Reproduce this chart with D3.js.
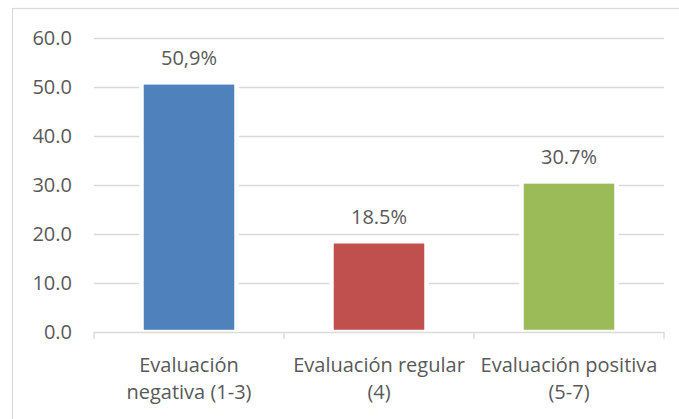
<!DOCTYPE html>
<html>
<head>
<meta charset="utf-8">
<script src="https://cdn.jsdelivr.net/npm/d3@7"></script>
<style>
  html, body { margin: 0; padding: 0; background: #fff; }
  svg { display: block; }
  text { font-family: "Open Sans", sans-serif; fill: #595959; }
</style>
</head>
<body>
<svg id="chart" width="679" height="419"></svg>
<script>
// ---- data ----
const categories = ["Evaluación negativa (1-3)", "Evaluación regular (4)", "Evaluación positiva (5-7)"];
const categoryLines = [["Evaluación", "negativa (1-3)"], ["Evaluación regular", "(4)"], ["Evaluación positiva", "(5-7)"]];
const values = [50.9, 18.5, 30.7];
const valueLabels = ["50,9%", "18.5%", "30.7%"];
const colors = ["#4f81bd", "#c0504d", "#9bbb59"];
const yTicks = [0, 10, 20, 30, 40, 50, 60];

// ---- layout ----
const plotLeft = 94, plotRight = 664, plotTop = 37.7, plotBottom = 332;

const svg = d3.select("#chart");

// outer frame
svg.append("rect")
  .attr("x", 12.5).attr("y", 8.5)
  .attr("width", 720).attr("height", 460)
  .attr("fill", "none").attr("stroke", "#d9d9d9").attr("stroke-width", 1.2);

const x = d3.scaleBand().domain(categories).range([plotLeft, plotRight])
  .paddingInner(0.5).paddingOuter(0.25);
const y = d3.scaleLinear().domain([0, 60]).range([plotBottom, plotTop]);

// gridlines
svg.append("g").selectAll("line")
  .data(yTicks.filter(d => d > 0))
  .join("line")
  .attr("x1", plotLeft).attr("x2", plotRight)
  .attr("y1", d => Math.round(y(d)) + 0.5).attr("y2", d => Math.round(y(d)) + 0.5)
  .attr("stroke", "#d9d9d9").attr("stroke-width", 1.3);

// y tick labels
svg.append("g").selectAll("text")
  .data(yTicks)
  .join("text")
  .attr("x", 72).attr("y", d => y(d))
  .attr("dy", "0.35em")
  .attr("text-anchor", "end")
  .style("font-size", "20px")
  .text(d => d3.format(".1f")(d));

// bars
svg.append("g").selectAll("rect")
  .data(values)
  .join("rect")
  .attr("x", (d, i) => x(categories[i]))
  .attr("width", x.bandwidth())
  .attr("y", d => y(d))
  .attr("height", d => y(0) - y(d))
  .attr("fill", (d, i) => colors[i])
  .attr("stroke", "#ffffff").attr("stroke-width", 4.5);

// x axis line & ticks
const xAxis = svg.append("g");
xAxis.append("line")
  .attr("x1", plotLeft).attr("x2", plotRight)
  .attr("y1", plotBottom + 0.5).attr("y2", plotBottom + 0.5)
  .attr("stroke", "#d9d9d9").attr("stroke-width", 1.3);
const bounds = [plotLeft].concat(categories.map(c => x(c) + x.bandwidth() + x.step() * x.paddingInner() / 2));
bounds[bounds.length - 1] = plotRight;
xAxis.selectAll("line.tick")
  .data(bounds)
  .join("line")
  .attr("class", "tick")
  .attr("x1", d => d).attr("x2", d => d)
  .attr("y1", plotBottom).attr("y2", plotBottom + 7)
  .attr("stroke", "#d9d9d9").attr("stroke-width", 1.3);

// value labels
svg.append("g").selectAll("text")
  .data(values)
  .join("text")
  .attr("x", (d, i) => x(categories[i]) + x.bandwidth() / 2)
  .attr("y", d => y(d) - 17.3)
  .attr("text-anchor", "middle")
  .style("font-size", "20px")
  .text((d, i) => valueLabels[i]);

// category labels
const catG = svg.append("g").selectAll("text")
  .data(categories)
  .join("text")
  .attr("text-anchor", "middle")
  .style("font-size", "20px");
catG.each(function(c, i) {
  const cx = x(c) + x.bandwidth() / 2;
  d3.select(this).selectAll("tspan")
    .data(categoryLines[i])
    .join("tspan")
    .attr("x", cx)
    .attr("y", (l, j) => 371.7 + j * 27.6)
    .text(l => l);
});
</script>
</body>
</html>
